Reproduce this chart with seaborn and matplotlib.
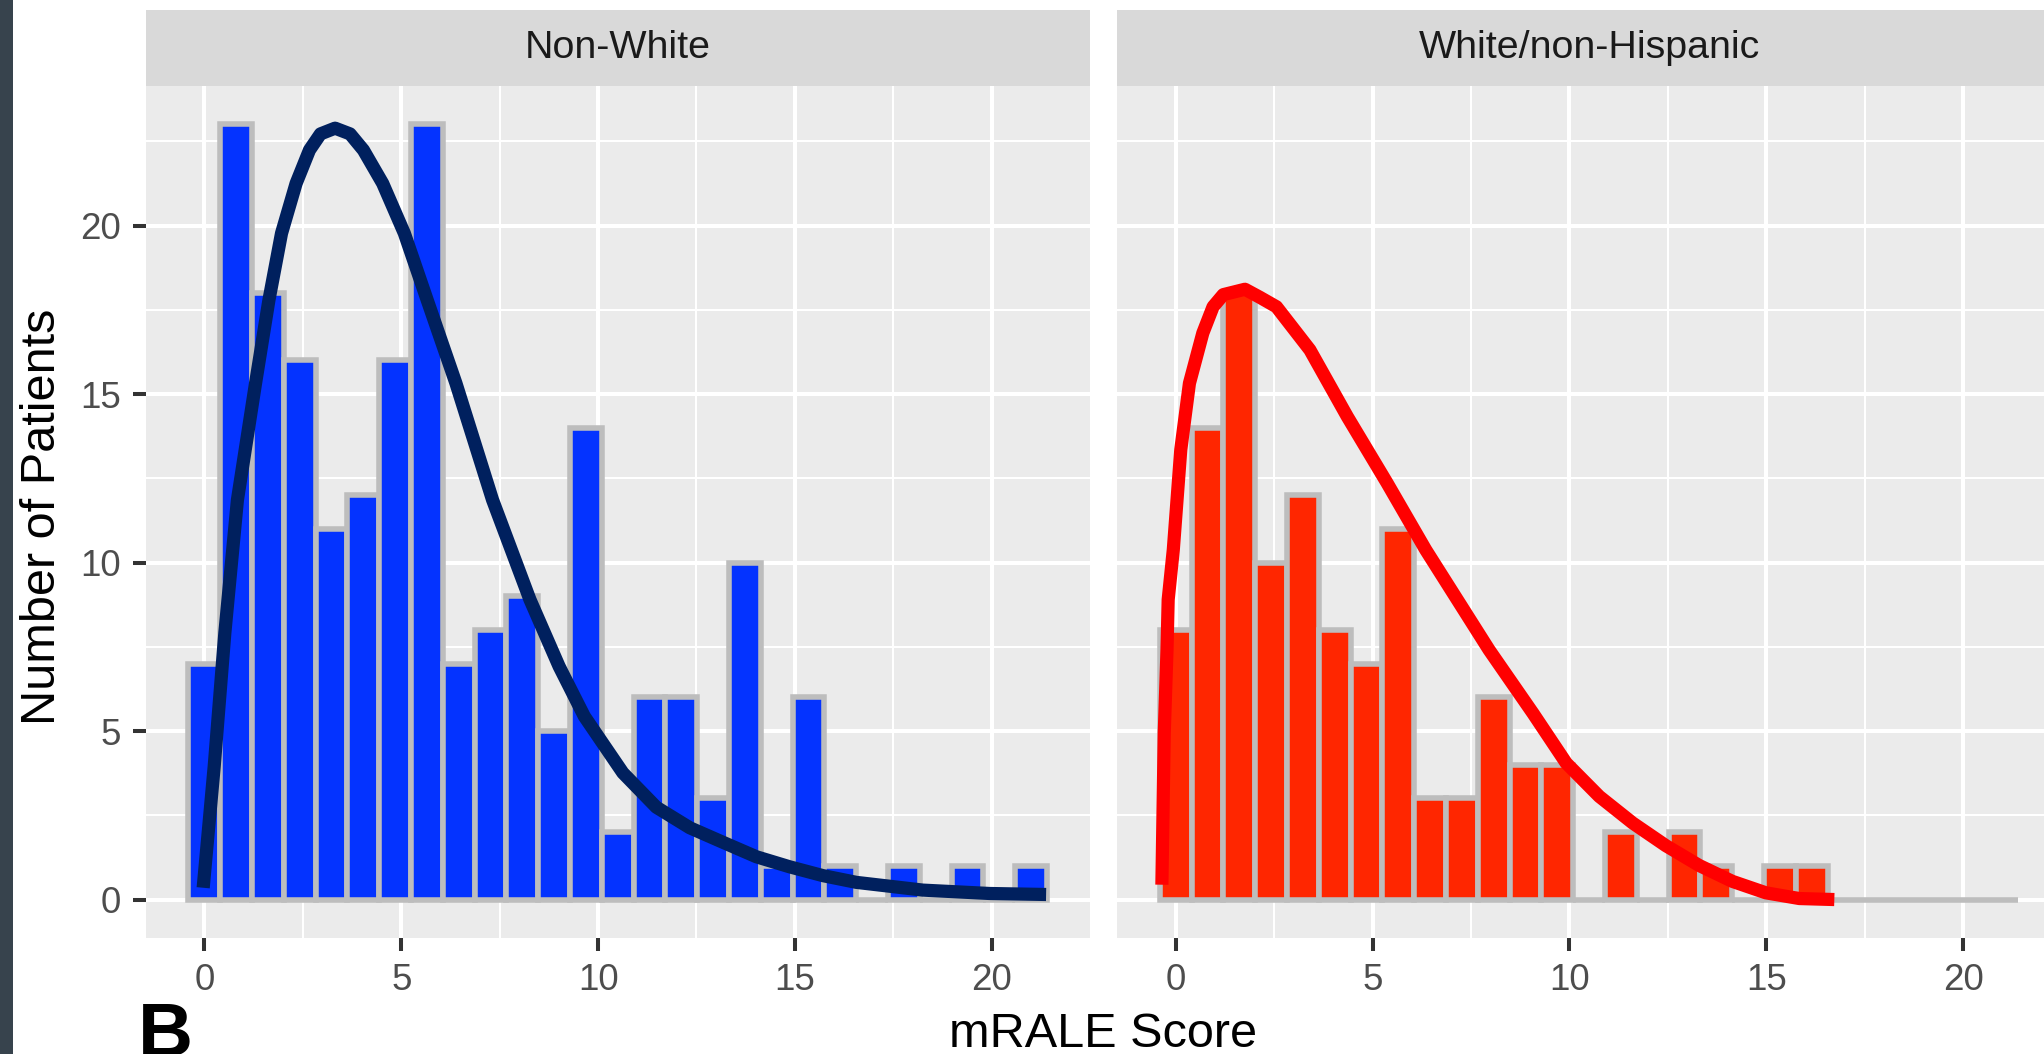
import numpy as np
import pandas as pd
import matplotlib
matplotlib.use("Agg")
import matplotlib.pyplot as plt
from matplotlib.ticker import MultipleLocator
from matplotlib.patches import Rectangle
import seaborn as sns

# ---------------- data ----------------
panels = ["Non-White", "White/non-Hispanic"]

n_bins = 27
bin_width = 21 / 26          # bins centred on 0 ... 21

counts_nonwhite = [7, 23, 18, 16, 11, 12, 16, 23, 7, 8, 9, 5, 14, 2, 6, 6, 3, 10,
                   1, 6, 1, 0, 1, 0, 1, 0, 1]
counts_white = [8, 14, 18, 10, 12, 8, 7, 11, 3, 3, 6, 4, 4, 0, 2, 0, 2, 1,
                0, 1, 1, 0, 0, 0, 0, 0, 0]

curve_nonwhite_x = [-0.03, 0.25, 0.52, 0.84, 1.30, 1.64, 1.96, 2.33, 2.67, 2.95, 3.32,
                    3.70, 4.04, 4.53, 5.08, 5.66, 6.39, 7.32, 8.27, 9.01, 9.65, 10.63,
                    11.48, 12.33, 13.17, 14.02, 14.87, 15.71, 16.56, 18.25, 19.94, 21.38]
curve_nonwhite_y = [0.35, 3.95, 7.91, 11.86, 15.32, 17.79, 19.77, 21.25, 22.24, 22.72, 22.89,
                    22.72, 22.24, 21.25, 19.77, 17.79, 15.32, 11.86, 8.90, 6.92, 5.44, 3.76,
                    2.74, 2.13, 1.70, 1.27, 0.97, 0.71, 0.51, 0.28, 0.18, 0.15]

curve_white_x = [-0.35, -0.29, -0.22, -0.19, -0.06, 0.13, 0.35, 0.69, 0.95, 1.21, 1.76,
                 2.14, 2.56, 3.41, 4.36, 5.37, 6.35, 7.96, 9.08, 9.92, 10.76, 11.61,
                 12.45, 13.30, 14.14, 14.99, 15.84, 16.73]
curve_white_y = [0.44, 4.94, 7.41, 8.90, 10.38, 13.35, 15.32, 16.81, 17.59, 17.95, 18.11,
                 17.87, 17.59, 16.31, 14.33, 12.36, 10.38, 7.41, 5.52, 4.05, 3.06, 2.27,
                 1.60, 1.01, 0.54, 0.20, 0.03, 0.00]

x_ticks = [0, 5, 10, 15, 20]
y_ticks = [0, 5, 10, 15, 20]

# ---------------- style ----------------
sns.set_theme(style="white")
plt.rcParams["font.family"] = ["Liberation Sans", "DejaVu Sans"]

W, H = 2044, 1054
fig = plt.figure(figsize=(W / 100, H / 100), dpi=100, facecolor="white")

def fx(px):
    return px / W

def fy(py):
    return (H - py) / H

bar_colors = ["#0433FF", "#FF2600"]
curve_colors = ["#00205E", "#FF0000"]
counts_all = [counts_nonwhite, counts_white]
curves = [(curve_nonwhite_x, curve_nonwhite_y), (curve_white_x, curve_white_y)]

edges = [(-0.5 + i) * bin_width for i in range(n_bins + 1)]
centers = [i * bin_width for i in range(n_bins)]

panel_left = [145.7, 1117.0]
panel_w = 944.1
panel_top, panel_bot = 85.7, 938.3
strip_top = 10.0
curve_lw = 9.5

for i, name in enumerate(panels):
    ax = fig.add_axes([fx(panel_left[i]), fy(panel_bot), fx(panel_w),
                       (panel_bot - panel_top) / H])
    ax.set_facecolor("#EBEBEB")
    ax.set_axisbelow(True)
    for s in ax.spines.values():
        s.set_visible(False)

    df = pd.DataFrame({"x": centers, "n": counts_all[i]})
    sns.histplot(data=df, x="x", weights="n", bins=edges, ax=ax,
                 color=bar_colors[i], edgecolor="#BDBDBD", linewidth=4.0,
                 alpha=1, zorder=2)
    for p in ax.patches:
        p.set_facecolor(bar_colors[i])

    cx, cy = curves[i]
    cdf = pd.DataFrame({"x": cx, "y": cy})
    sns.lineplot(data=cdf, x="x", y="y", ax=ax, color=curve_colors[i],
                 lw=curve_lw, estimator=None, sort=False, zorder=3)
    for ln in ax.get_lines():
        ln.set_linewidth(curve_lw)
        ln.set_solid_capstyle("butt")
        ln.set_solid_joinstyle("round")

    ax.set_xlim(-1.49, 22.49)
    ax.set_ylim(-1.15, 24.15)
    ax.set_xticks(x_ticks)
    ax.set_yticks(y_ticks)
    ax.xaxis.set_minor_locator(MultipleLocator(2.5))
    ax.yaxis.set_minor_locator(MultipleLocator(2.5))
    ax.grid(which="major", color="white", linewidth=2.9)
    ax.grid(which="minor", color="white", linewidth=1.5)
    ax.tick_params(which="minor", length=0)
    ax.tick_params(axis="x", which="major", length=9.4, width=2.9, color="#333333",
                   labelsize=26.5, labelcolor="#4D4D4D", pad=8.5, bottom=True)
    if i == 0:
        ax.tick_params(axis="y", which="major", length=9.4, width=2.9, color="#333333",
                       labelsize=26.5, labelcolor="#4D4D4D", pad=8.5, left=True)
    else:
        ax.tick_params(axis="y", which="major", length=0, labelleft=False, left=False)
    ax.set_xlabel("")
    ax.set_ylabel("")

    # facet strip
    sax = fig.add_axes([fx(panel_left[i]), fy(panel_top), fx(panel_w),
                        (panel_top - strip_top) / H])
    sax.set_facecolor("#D9D9D9")
    sax.set_xticks([])
    sax.set_yticks([])
    for s in sax.spines.values():
        s.set_visible(False)
    sax.text(0.5, 0.5, name, transform=sax.transAxes, ha="center", va="center",
             fontsize=28.4, color="#1A1A1A")

# axis titles
fig.text(fx(1103), fy(1047), "mRALE Score", ha="center", va="baseline",
         fontsize=35, color="black")
fig.text(fx(43), fy(517), "Number of Patients", ha="center", va="center",
         rotation=90, fontsize=35, color="black")

# panel letter (cut by the lower edge, as in the original figure)
fig.text(fx(138), fy(1056), "B", ha="left", va="baseline", fontsize=55,
         fontweight="bold", color="black")

# dark left edge
fig.patches.append(Rectangle((0, 0), fx(13), 1, transform=fig.transFigure,
                             facecolor="#37434D", edgecolor="none", zorder=10))

fig.savefig("out.png", dpi=100, facecolor="white")
